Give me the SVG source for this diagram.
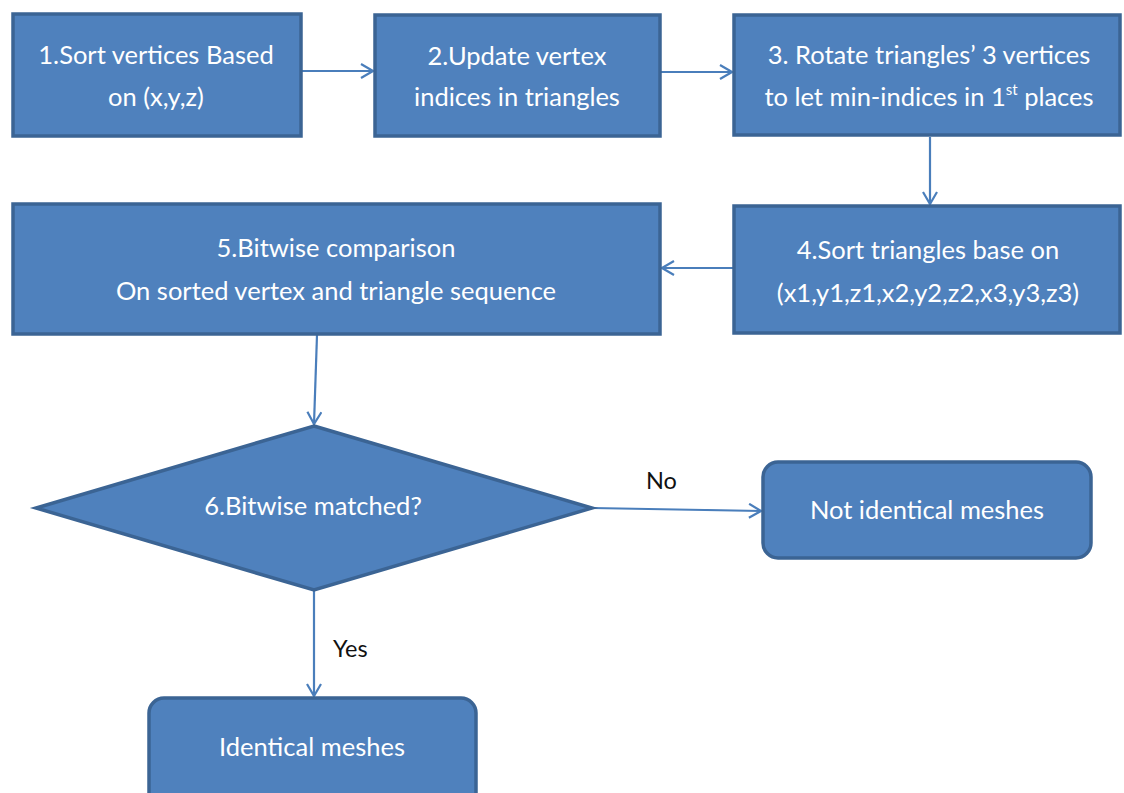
<svg xmlns="http://www.w3.org/2000/svg" width="1124" height="793" viewBox="0 0 1124 793">
  <defs>
    <style>
      .box { fill: #4F81BD; stroke: #3B6494; stroke-width: 3.5; }
      .t { font-family: Lato, "Open Sans", "Liberation Sans", sans-serif; font-size: 25.5px; fill: #FFFFFF; text-anchor: middle; }
      .lbl { font-family: Lato, "Open Sans", "Liberation Sans", sans-serif; font-size: 23.5px; fill: #111111; }
      .conn { fill: none; stroke: #4A7EBB; stroke-width: 2.2; }
    </style>
    <marker id="arrow" viewBox="0 0 14 16" refX="13" refY="8" markerWidth="14" markerHeight="16" markerUnits="userSpaceOnUse" orient="auto">
      <path d="M1,1 L13,8 L1,15" fill="none" stroke="#4A7EBB" stroke-width="2.2"/>
    </marker>
  </defs>
  <rect width="1124" height="793" fill="#FFFFFF"/>

  <g id="connectors">
    <line class="conn" x1="302" y1="71" x2="373" y2="71" marker-end="url(#arrow)"/>
    <line class="conn" x1="661" y1="72" x2="732" y2="72" marker-end="url(#arrow)"/>
    <line class="conn" x1="930" y1="137" x2="930" y2="204" marker-end="url(#arrow)"/>
    <line class="conn" x1="733" y1="268" x2="662" y2="268" marker-end="url(#arrow)"/>
    <line class="conn" x1="317" y1="335" x2="314" y2="424" marker-end="url(#arrow)"/>
    <line class="conn" x1="592" y1="508" x2="761" y2="511" marker-end="url(#arrow)"/>
    <line class="conn" x1="314" y1="591" x2="314" y2="696" marker-end="url(#arrow)"/>
    <text class="lbl" x="646" y="489">No</text>
    <text class="lbl" x="333" y="657">Yes</text>
  </g>

  <g id="node1">
    <rect class="box" x="13" y="14" width="288" height="122"/>
    <text class="t" x="156" y="64">1.Sort vertices Based</text>
    <text class="t" x="156" y="106">on (x,y,z)</text>
  </g>

  <g id="node2">
    <rect class="box" x="375" y="15" width="285" height="121"/>
    <text class="t" x="517" y="65">2.Update vertex</text>
    <text class="t" x="517" y="106">indices in triangles</text>
  </g>

  <g id="node3">
    <rect class="box" x="734" y="15" width="386" height="120"/>
    <text class="t" x="929" y="64">3. Rotate triangles’ 3 vertices</text>
    <text class="t" x="929" y="106">to let min-indices in 1<tspan font-size="15" dy="-11">st</tspan><tspan dy="11"> places</tspan></text>
  </g>

  <g id="node4">
    <rect class="box" x="734" y="206" width="386" height="127"/>
    <text class="t" x="928" y="259">4.Sort triangles base on</text>
    <text class="t" x="928" y="302">(x1,y1,z1,x2,y2,z2,x3,y3,z3)</text>
  </g>

  <g id="node5">
    <rect class="box" x="13" y="204" width="647" height="130"/>
    <text class="t" x="336" y="257">5.Bitwise comparison</text>
    <text class="t" x="336" y="300">On sorted vertex and triangle sequence</text>
  </g>

  <g id="node6">
    <polygon class="box" points="314,426 592,508 314,590 36,508"/>
    <text class="t" x="313" y="515">6.Bitwise matched?</text>
  </g>

  <g id="node7">
    <rect class="box" x="763" y="462" width="328" height="96" rx="15" ry="15"/>
    <text class="t" x="927" y="519">Not identical meshes</text>
  </g>

  <g id="node8">
    <rect class="box" x="149" y="698" width="327" height="110" rx="15" ry="15"/>
    <text class="t" x="312" y="756">Identical meshes</text>
  </g>
</svg>
